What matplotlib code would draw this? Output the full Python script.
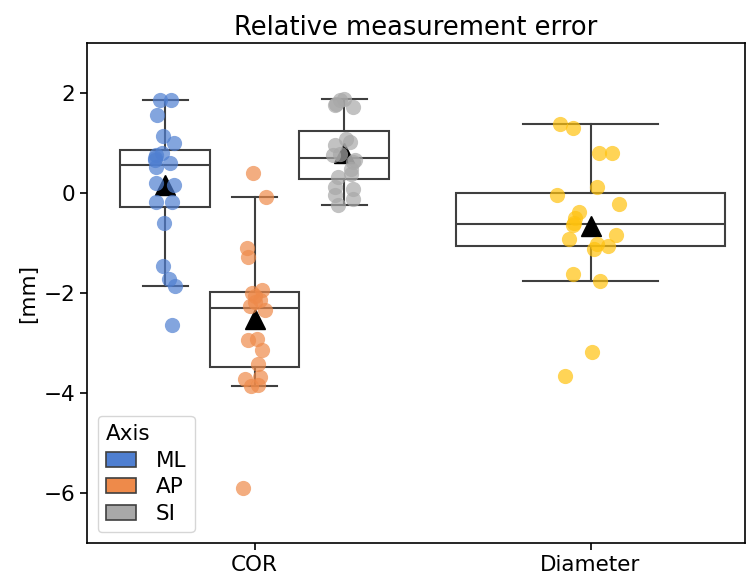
import matplotlib
matplotlib.use("Agg")
import matplotlib.pyplot as plt
from matplotlib.patches import Patch

categories = ["COR", "Diameter"]
axes_names = ["ML", "AP", "SI"]

# values [mm], with the horizontal jitter of each dot
ml_vals = [1.87, 1.87, 1.56, 1.15, 1.0, 0.81, 0.76, 0.7, 0.66, 0.6,
           0.53, 0.21, 0.16, -0.17, -0.17, -0.6, -1.46, -1.72, -1.86, -2.64]
ml_jit = [-0.015, 0.018, -0.024, -0.006, 0.027, -0.009, -0.027, -0.030, -0.030, 0.015,
          -0.027, -0.027, 0.027, -0.027, 0.021, -0.003, -0.006, 0.012, 0.030, 0.021]

ap_vals = [0.41, -0.08, -1.09, -1.27, -1.94, -2.0, -2.05, -2.14, -2.17, -2.25,
           -2.34, -2.91, -2.94, -3.13, -3.42, -3.67, -3.71, -3.84, -3.86, -5.89]
ap_jit = [-0.006, 0.033, -0.024, -0.021, 0.021, -0.009, 0.0, 0.015, 0.0, -0.015,
          0.030, 0.006, -0.021, 0.021, 0.009, 0.015, -0.030, 0.009, -0.012, -0.036]

si_vals = [1.89, 1.86, 1.79, 1.76, 1.73, 1.09, 1.03, 0.96, 0.79, 0.76,
           0.66, 0.63, 0.49, 0.39, 0.33, 0.13, 0.09, -0.04, -0.11, -0.24]
si_jit = [0.0, -0.012, -0.024, -0.027, 0.027, 0.006, 0.018, -0.027, -0.012, -0.033,
          0.033, 0.027, 0.021, 0.021, -0.018, -0.027, 0.027, -0.027, 0.027, -0.018]

dia_vals = [1.38, 1.31, 0.81, 0.81, 0.13, -0.03, -0.22, -0.37, -0.49, -0.6,
            -0.64, -0.91, -0.83, -1.01, -1.05, -1.11, -1.61, -1.76, -3.17, -3.66]
dia_jit = [-0.092, -0.052, 0.025, 0.065, 0.018, -0.099, 0.085, -0.034, -0.045, -0.050,
           -0.053, -0.064, 0.077, 0.018, 0.052, 0.009, -0.052, 0.027, 0.003, -0.077]

colors = ["#4f7fd1", "#ee8a4a", "#a8a8a8"]
dia_color = "#ffc20e"

fig = plt.figure(figsize=(7.48, 5.76), dpi=100)
ax = fig.add_axes([0.116, 0.057, 0.88, 0.868])

hw = 0.8 / 3
groups = [(ml_vals, ml_jit, colors[0], -hw, hw),
          (ap_vals, ap_jit, colors[1], 0.0, hw),
          (si_vals, si_jit, colors[2], hw, hw),
          (dia_vals, dia_jit, dia_color, 1.0, 0.8)]

line = dict(color="#3f3f3f", linewidth=1.5)
for vals, jit, col, pos, w in groups:
    ax.boxplot(vals, positions=[pos], widths=w, showfliers=False,
               showmeans=True, patch_artist=True, manage_ticks=False,
               boxprops=dict(facecolor="white", edgecolor="#3f3f3f", linewidth=1.5),
               whiskerprops=line, capprops=line, medianprops=line,
               capwidths=w / 2,
               meanprops=dict(marker="^", markerfacecolor="black",
                              markeredgecolor="black", markersize=14),
               zorder=1)
    ax.scatter([pos + j for j in jit], vals, s=120, color=col, alpha=0.7,
               linewidths=0, zorder=2)

ax.set_xlim(-0.5, 1.46)
ax.set_ylim(-7, 3)
ax.set_xticks([0, 1])
ax.set_xticklabels(categories)
ax.set_yticks([-6, -4, -2, 0, 2])
ax.tick_params(labelsize=15.5, width=1.2, length=5)
for sp in ax.spines.values():
    sp.set_linewidth(1.2)
ax.set_ylabel("[mm]", fontsize=15.5)
ax.set_title("Relative measurement error", fontsize=18.5)

handles = [Patch(facecolor=c, edgecolor="#3f3f3f", linewidth=1.2) for c in colors]
ax.legend(handles, axes_names, title="Axis", loc="lower left", fontsize=15.5,
          title_fontsize=15.5, handlelength=1.4, handletextpad=0.9,
          labelspacing=0.3, borderaxespad=0.5, alignment="left")

fig.savefig("out.png", dpi=100)
